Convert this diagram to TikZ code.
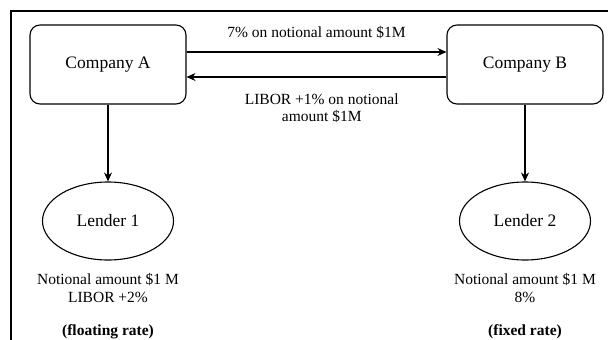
\documentclass[tikz,border=0pt]{standalone}
\usepackage{fontspec}
\setmainfont{Liberation Serif}
\usetikzlibrary{arrows.meta,shapes.geometric}
\tikzset{
    company/.style={draw,rounded corners=10pt,line width=1.1pt,minimum width=156pt,minimum height=79pt,font=\fontsize{17.5}{20}\selectfont},
    lender/.style={draw,ellipse,line width=1.1pt,minimum width=131pt,minimum height=78pt,font=\fontsize{17.5}{20}\selectfont},
    note/.style={align=center,font=\fontsize{15.5}{17}\selectfont},
    flow/.style={line width=1.1pt,-{Stealth[length=9pt,width=8pt]}}
}
\begin{document}
\begin{tikzpicture}[x=1pt,y=-1pt]
        \useasboundingbox (0,0) rectangle (608,340);
        %% frame
        \draw[line width=1.8pt] (11,340) -- (11,11) -- (608,11);
        %% companies and lenders
        \node[company] (A) at (108,64.5) {Company A};
        \node[company] (B) at (525,64.5) {Company B};
        \node[lender] (L1) at (108,221) {Lender 1};
        \node[lender] (L2) at (525,221) {Lender 2};
        %% swap payments
        \draw[flow] ([yshift=12.5pt]A.east) -- ([yshift=12.5pt]B.west)
            node[note,midway,above=9pt] (fix) {7\% on notional amount \$1M};
        \draw[flow] ([yshift=-12.5pt]B.west) -- ([yshift=-12.5pt]A.east)
            node[note,pos=0.48,below=13pt] (flt) {LIBOR +1\% on notional\\amount \$1M};
        %% loans
        \draw[flow] (A.south) -- (L1.north);
        \draw[flow] (B.south) -- (L2.north);
        \node[note,font=\fontsize{15.5}{18}\selectfont] (n1) at (108,288) {Notional amount \$1 M\\LIBOR +2\%};
        \node[note,font=\fontsize{15.5}{18}\selectfont] (n2) at (525,288) {Notional amount \$1 M\\8\%};
        \node[note,anchor=base,font=\fontsize{15.5}{18}\selectfont\bfseries] (r1) at (108,335) {(floating rate)};
        \node[note,anchor=base,font=\fontsize{15.5}{18}\selectfont\bfseries] (r2) at (525,335) {(fixed rate)};
    \end{tikzpicture}
\end{document}
